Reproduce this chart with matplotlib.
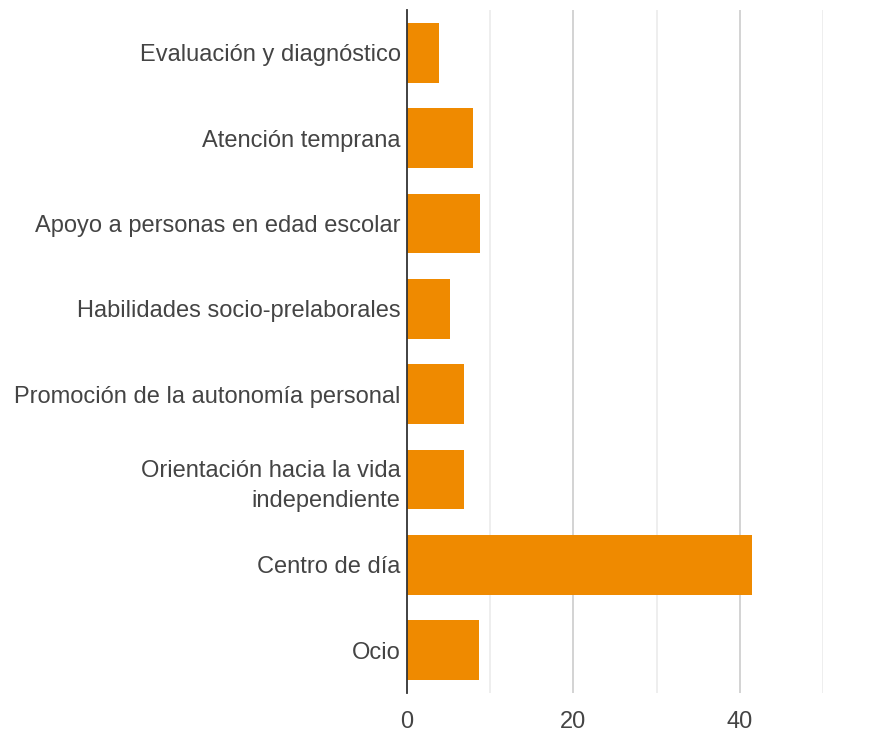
import matplotlib
matplotlib.use("Agg")
import matplotlib.pyplot as plt

categories = [
    "Evaluación y diagnóstico",
    "Atención temprana",
    "Apoyo a personas en edad escolar",
    "Habilidades socio-prelaborales",
    "Promoción de la autonomía personal",
    "Orientación hacia la vida\nindependiente",
    "Centro de día",
    "Ocio",
]
values = [3.8, 7.9, 8.8, 5.2, 6.9, 6.9, 41.5, 8.6]
major_ticks = [0, 20, 40]
minor_ticks = [10, 30, 50]

plt.rcParams['font.family'] = ['Liberation Sans', 'DejaVu Sans']

fig = plt.figure(figsize=(8.96, 7.33), dpi=100)
ax = fig.add_axes([0.4542, 0.0546, 0.4643, 0.9318])

ypos = list(range(len(categories)))
ax.barh(ypos, values, height=0.7, color='#ef8a00', zorder=3)

ax.set_ylim(len(categories) - 0.5, -0.5)
ax.set_xlim(0, 50)
ax.set_yticks(ypos)
ax.set_yticklabels(categories, fontsize=17, color='#444444', linespacing=1.45)
ax.set_xticks(major_ticks)
ax.set_xticklabels([str(t) for t in major_ticks], fontsize=17, color='#444444')
ax.set_xticks(minor_ticks, minor=True)

ax.tick_params(axis='y', length=0, pad=4.5)
ax.tick_params(axis='x', which='both', length=0, pad=13)

for t in major_ticks[1:]:
    ax.axvline(t, color='#cccccc', lw=1.2, zorder=1)
for t in minor_ticks:
    ax.axvline(t, color='#ebebeb', lw=1.2, zorder=1)

for s in ['top', 'right', 'bottom']:
    ax.spines[s].set_visible(False)
ax.spines['left'].set_color('#333333')
ax.spines['left'].set_linewidth(1.3)
ax.spines['left'].set_zorder(4)

fig.savefig("out.png", dpi=100)
